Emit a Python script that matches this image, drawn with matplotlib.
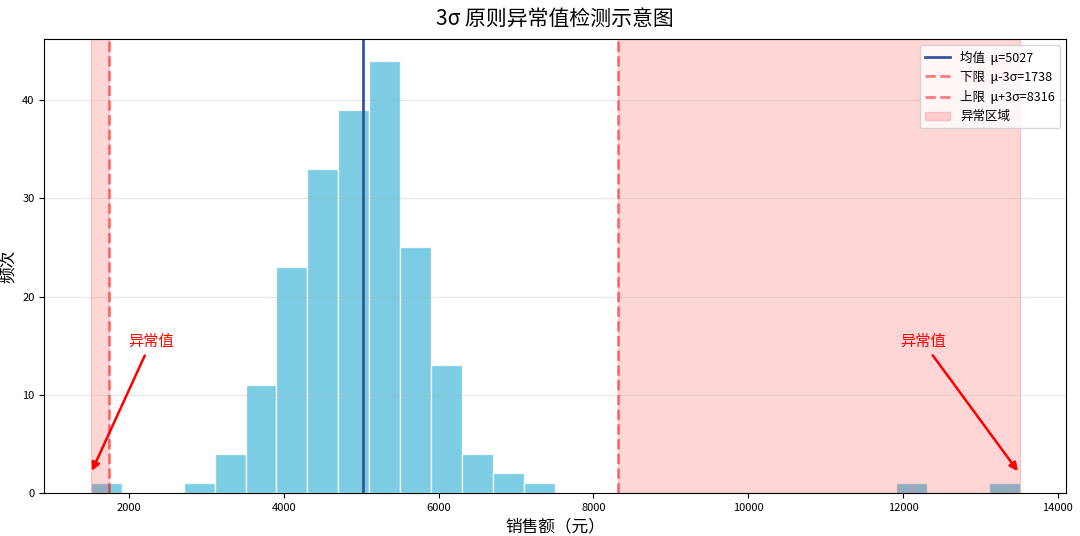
import numpy as np
import matplotlib
matplotlib.use('Agg')
import matplotlib.pyplot as plt

plt.rcParams['font.family'] = ['Noto Sans CJK SC', 'DejaVu Sans']
plt.rcParams['axes.unicode_minus'] = False

# 直方图数据
bin_start = 1506
bin_width = 400
counts = [1, 0, 0, 1, 4, 11, 23, 33, 39, 44, 25, 13, 4, 2, 1,
          0, 0, 0, 0, 0, 0, 0, 0, 0, 0, 0, 1, 0, 0, 1]

mean_val = 5027
lower = 1738
upper = 8316
data_min = 1506
data_max = 13506

edges = bin_start + bin_width * np.arange(len(counts) + 1)
centers = (edges[:-1] + edges[1:]) / 2

fig, ax = plt.subplots(figsize=(10.8, 5.36), dpi=100)
fig.subplots_adjust(left=0.041, right=0.987, top=0.927, bottom=0.080)

ax.hist(centers, bins=edges, weights=counts, color='#5bc0de', alpha=0.8,
        edgecolor='white', linewidth=1)

ax.axvline(mean_val, color='#34569a', linewidth=2, label=f'均值  μ={mean_val}')
ax.axvline(lower, color='red', linestyle='--', linewidth=2, alpha=0.5,
           label=f'下限  μ-3σ={lower}')
ax.axvline(upper, color='red', linestyle='--', linewidth=2, alpha=0.5,
           label=f'上限  μ+3σ={upper}')

ax.axvspan(data_min, lower, color='red', alpha=0.16)
ax.axvspan(upper, data_max, color='red', alpha=0.16, label='异常区域')

ax.annotate('异常值', xy=(data_min, 2), xytext=(data_min + 780, 15.4),
            ha='center', va='center', color='red', fontsize=11,
            arrowprops=dict(arrowstyle='-|>', color='red', lw=1.8, mutation_scale=12))
ax.annotate('异常值', xy=(data_max, 2), xytext=(data_max - 1250, 15.4),
            ha='center', va='center', color='red', fontsize=11,
            arrowprops=dict(arrowstyle='-|>', color='red', lw=1.8, mutation_scale=12))

ax.set_title('3σ 原则异常值检测示意图', fontsize=15, pad=10)
ax.set_xlabel('销售额（元）', fontsize=12)
ax.set_ylabel('频次', fontsize=12)
ax.tick_params(labelsize=8)
ax.grid(axis='y', alpha=0.3)
ax.legend(loc='upper right', fontsize=9)

plt.savefig('out.png')
